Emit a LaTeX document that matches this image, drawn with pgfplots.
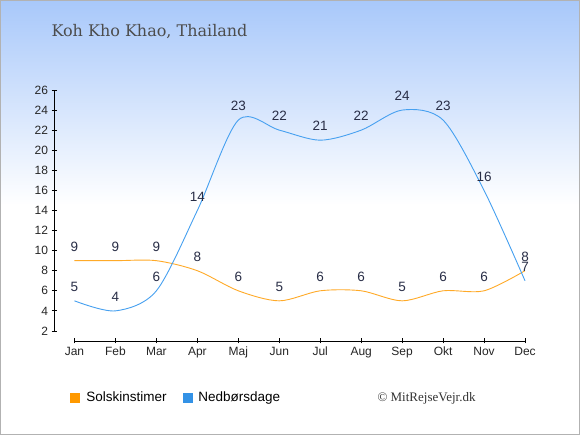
\documentclass[border=0pt]{standalone}
\usepackage{pgfplots}
\pgfplotsset{compat=1.18}
\usepackage{fontspec}
\setmainfont{Liberation Sans}
\newfontfamily\titlefont{DejaVu Serif}
\newfontfamily\copyfont{Liberation Serif}
\definecolor{bgtop}{RGB}{168,200,250}
\definecolor{sunline}{RGB}{255,170,40}
\definecolor{rainline}{RGB}{70,160,240}
\definecolor{sunsq}{RGB}{255,153,0}
\definecolor{rainsq}{RGB}{51,146,230}
\definecolor{lbl}{RGB}{40,45,70}
\begin{document}
\begin{tikzpicture}[x=1pt,y=1pt]
\useasboundingbox (0,0) rectangle (580,435);
\fill[white] (0,0) rectangle (580,435);
\shade[top color=bgtop, bottom color=white] (0,230) rectangle (580,435);
\draw[black!30, line width=1pt] (0.5,0.5) rectangle (579.5,434.5);
\node[anchor=west, text=black!70, font=\titlefont\fontsize{16}{19}\selectfont] at (48,403) {Koh Kho Khao, Thailand};
\node[anchor=west, text=black!80, font=\copyfont\fontsize{13}{16}\selectfont] at (374,37) {© MitRejseVejr.dk};
\begin{axis}[at={(54pt,94pt)}, anchor=south west, scale only axis, width=471pt, height=251pt,
 xmin=-0.5, xmax=11, ymin=1, ymax=26, clip=false,
 axis x line*=bottom, axis y line*=left, axis line style={draw=none,-},
 xtick={0,...,11}, xticklabels={Jan,Feb,Mar,Apr,Maj,Jun,Jul,Aug,Sep,Okt,Nov,Dec},
 ytick={2,4,...,26},
 tick align=center, major tick length=5pt, tick style={black, line width=0.8pt},
 tick label style={font=\fontsize{12}{14}\selectfont, text=black!85},
 /pgf/number format/assume math mode=true,
 nodes near coords,
 every node near coord/.style={anchor=center, yshift=14pt, font=\fontsize{13.5}{16}\selectfont, text=lbl},
 legend columns=2,
 legend style={at={(axis description cs:0.028,-0.225)}, anchor=west, draw=none, fill=none,
   font=\fontsize{13.5}{16}\selectfont,
   /tikz/every odd column/.append style={column sep=4pt},
   /tikz/every even column/.append style={column sep=14pt}},
 legend cell align=left,
]
\draw[black, line width=0.8pt] (axis cs:-0.5,2) -- (axis cs:-0.5,26);
\draw[black, line width=0.8pt] (axis cs:0,1) -- (axis cs:11,1);
\addplot[sunline, line width=0.9pt, smooth, no marks,
  legend image code/.code={\fill[sunsq] (0pt,-4.5pt) rectangle (9pt,4.5pt);}]
  coordinates {(0,9) (1,9) (2,9) (3,8) (4,6) (5,5) (6,6) (7,6) (8,5) (9,6) (10,6) (11,8)};
\addlegendentry{Solskinstimer}
\addplot[rainline, line width=0.9pt, smooth, no marks,
  legend image code/.code={\fill[rainsq] (0pt,-4.5pt) rectangle (9pt,4.5pt);}]
  coordinates {(0,5) (1,4) (2,6) (3,14) (4,23) (5,22) (6,21) (7,22) (8,24) (9,23) (10,16) (11,7)};
\addlegendentry{Nedbørsdage}
\end{axis}
\end{tikzpicture}
\end{document}
